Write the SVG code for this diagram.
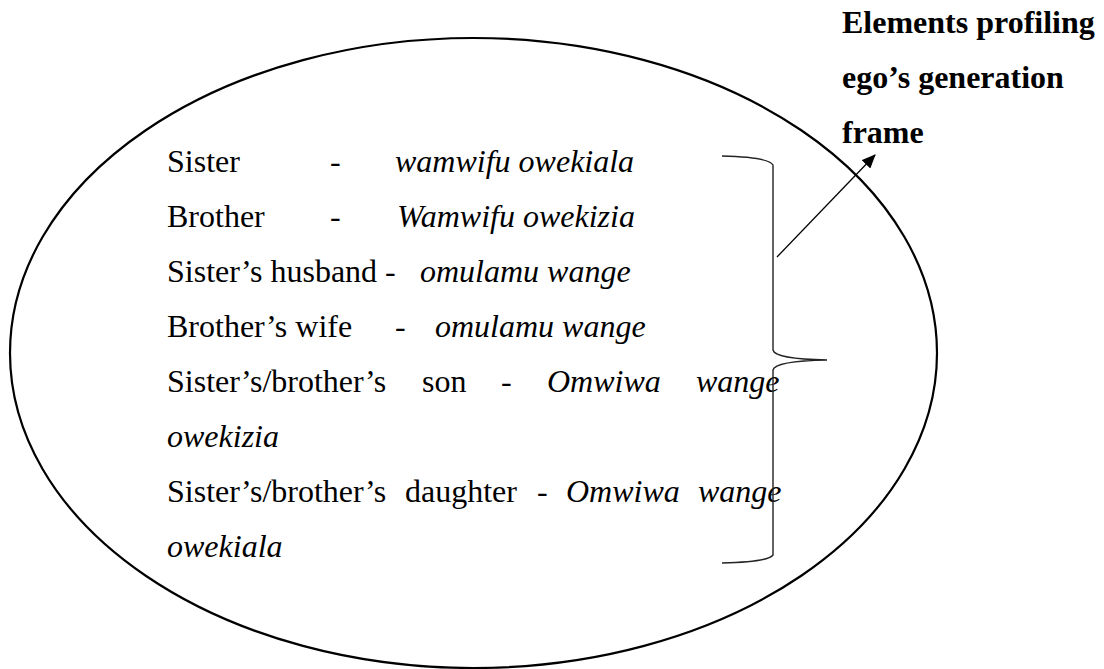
<svg xmlns="http://www.w3.org/2000/svg" width="1104" height="669" viewBox="0 0 1104 669">
  <style>
    .t { font-family: "Liberation Serif", "Times New Roman", serif; font-size: 32px; fill: #000; }
    .i { font-style: italic; }
    .b { font-weight: bold; }
    .frame { fill: none; stroke: #000; stroke-width: 2.2; }
    .brace { fill: none; stroke: #222; stroke-width: 1.4; }
    .link { fill: none; stroke: #000; stroke-width: 1.3; }
  </style>
  <defs>
    <marker id="head" markerWidth="14" markerHeight="12" refX="13" refY="6" orient="auto" markerUnits="userSpaceOnUse">
      <path d="M0,0 L14,6 L0,12 Z" fill="#000"/>
    </marker>
  </defs>
  <rect width="1104" height="669" fill="#fff"/>

  <!-- generation frame -->
  <g id="frame">
    <ellipse class="frame" cx="473.5" cy="353" rx="463.5" ry="315"/>
  </g>

  <!-- kin terms inside the frame -->
  <g id="terms" class="t">
    <text x="167" y="172">Sister</text>
    <text x="330" y="172">-</text>
    <text x="395" y="172" class="i">wamwifu owekiala</text>

    <text x="167" y="227">Brother</text>
    <text x="330" y="227">-</text>
    <text x="397" y="227" class="i">Wamwifu owekizia</text>

    <text x="167" y="282">Sister’s husband -</text>
    <text x="420" y="282" class="i">omulamu wange</text>

    <text x="167" y="337">Brother’s wife</text>
    <text x="395" y="337">-</text>
    <text x="435" y="337" class="i">omulamu wange</text>

    <text x="167" y="392">Sister’s/brother’s</text>
    <text x="422" y="392">son</text>
    <text x="501" y="392">-</text>
    <text x="547" y="392" class="i">Omwiwa</text>
    <text x="696" y="392" class="i">wange</text>
    <text x="167" y="447" class="i">owekizia</text>

    <text x="167" y="502">Sister’s/brother’s</text>
    <text x="405" y="502">daughter</text>
    <text x="537" y="502">-</text>
    <text x="566" y="502" class="i">Omwiwa</text>
    <text x="698" y="502" class="i">wange</text>
    <text x="167" y="557" class="i">owekiala</text>
  </g>

  <!-- label -->
  <g id="label" class="t b">
    <text x="842" y="33">Elements profiling</text>
    <text x="842" y="88">ego’s generation</text>
    <text x="842" y="143">frame</text>
  </g>

  <!-- connectors -->
  <g id="connectors">
    <path class="brace" d="M722,156 Q768,157 773,165 L773,350 Q775,359 827,360 Q775,361 773,370 L773,555 Q768,562 722,563"/>
    <line class="link" x1="777" y1="257" x2="875" y2="155" marker-end="url(#head)"/>
  </g>
</svg>
